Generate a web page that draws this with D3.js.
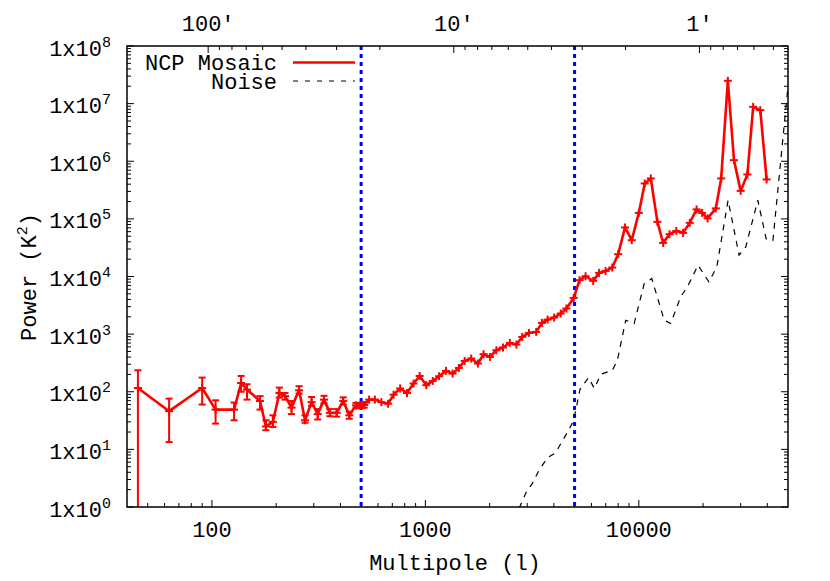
<!DOCTYPE html>
<html><head><meta charset="utf-8">
<script src="https://cdn.jsdelivr.net/npm/d3@7"></script>
<style>body{margin:0;background:#fff}svg{display:block}text{font-family:"Liberation Mono","DejaVu Sans Mono",monospace;fill:#000}</style>
</head><body>
<svg id="c" width="830" height="581"></svg>
<script>
// NCP Mosaic power spectrum
const ells = [45,63,90,104,127,137,146,168,179,193,207,220,236,256,273,293,313,335,357,384,412,440,473,494,517,
  545,580,622,669,710,762,820,880,940,1010,1083,1160,1248,1341,1436,1528,1640,1763,1874,2007,2151,2310,2487,2670,2844,
  3056,3306,3515,3737,4012,4307,4579,4955,5278,5630,6112,6515,6986,7510,8003,8619,9270,10000,10660,11380,
  12220,13000,13930,14990,16120,17330,18650,19800,21000,22950,24320,26130,27920,30000,32270,34340,37080,39700];
const power = [116,46,116,49,49,142,109,69,25,30,95,84,53,106,32,66,41,73,43,43,69,39,58,58,59,
  73,73,66,62,89,114,95,139,188,130,154,186,230,207,259,343,377,309,448,402,525,585,703,660,894,
  1050,1092,1565,1790,1940,2280,2780,4250,8630,10100,8400,11550,12500,14300,24400,71000,42700,127000,412000,503000,
  88700,38300,54200,61900,57200,85300,146000,127000,102000,152000,503000,2.49e7,1.045e6,306000,590000,8.8e6,7.7e6,483000];
// error bars (first points)
const errLo = [0.1,13.4,60,28,32,100,73,49,21.5,24.5,79,73,41,93,29,57,33,63,37.6,37,60,34,52,52,53];
const errHi = [236,76,176,71,65,188,135,84,32,39,118,95,69,125,39,81,50,85,50,50,80,45,64,64,66];
// Noise
const noiseEll = [2750,2968,3177,3402,3737,4070,4479,4870,5050,5300,5814,6190,6640,7520,7936,8680,9510,10600,11500,
  13150,14100,15700,16880,18940,21300,23200,26200,29500,31700,36100,39500,42500,50000];
const noisePower = [0.95,1.8,2.6,4.3,7.2,8.7,16,28,45,110,176,114,201,236,352,1743,1527,7550,9220,
  1743,1527,4420,6590,15700,8050,14700,211000,23400,32600,211000,45000,42000,2e7];
// axes
const xDomain = [40, 50000];
const yDomain = [1, 1e8];
const thetaDomain = [214, 0.436];
const xMajor = [100, 1000, 10000];
const xMinor = [50,60,70,80,90,200,300,400,500,600,700,800,900,2000,3000,4000,5000,6000,7000,8000,9000,20000,30000,40000];
const yMajorExp = [0,1,2,3,4,5,6,7,8];
const thetaMajor = [100, 10, 1];
const thetaLabels = ["100\u2032", "10\u2032", "1\u2032"];
const thetaMinor = [90,80,70,60,50,40,30,20,9,8,7,6,5,4,3,2,0.9,0.8,0.7,0.6,0.5];
const markerLines = [500, 5000];

const X0 = 127, X1 = 788, Y0 = 46, Y1 = 507;
const svg = d3.select("#c");
svg.append("rect").attr("width",830).attr("height",581).attr("fill","#fff");
const x = d3.scaleLog().domain(xDomain).range([X0, X1]);
const y = d3.scaleLog().domain(yDomain).range([Y1, Y0]);
const xt = d3.scaleLog().domain(thetaDomain).range([X0, X1]);

svg.append("clipPath").attr("id","clip").append("rect").attr("x",X0).attr("y",Y0).attr("width",X1-X0).attr("height",Y1-Y0);

const tickG = svg.append("g").attr("stroke","#000").attr("stroke-width",1);
const MAJ = 7, MIN = 4;
// bottom
xMajor.forEach(v=>tickG.append("line").attr("x1",x(v)).attr("x2",x(v)).attr("y1",Y1).attr("y2",Y1-MAJ));
xMinor.forEach(v=>tickG.append("line").attr("x1",x(v)).attr("x2",x(v)).attr("y1",Y1).attr("y2",Y1-MIN));
// top
thetaMajor.forEach(v=>tickG.append("line").attr("x1",xt(v)).attr("x2",xt(v)).attr("y1",Y0).attr("y2",Y0+MAJ));
thetaMinor.forEach(v=>tickG.append("line").attr("x1",xt(v)).attr("x2",xt(v)).attr("y1",Y0).attr("y2",Y0+MIN));
// y left/right
yMajorExp.forEach(e=>{
  const v = Math.pow(10,e);
  [[X0,1],[X1,-1]].forEach(([bx,s])=>{
    tickG.append("line").attr("x1",bx).attr("x2",bx+s*MAJ).attr("y1",y(v)).attr("y2",y(v));
    if (e<8) for (let k=2;k<=9;k++){
      const w = k*v;
      tickG.append("line").attr("x1",bx).attr("x2",bx+s*MIN).attr("y1",y(w)).attr("y2",y(w));
    }
  });
});

// labels
const FS = 22;
xMajor.forEach(v=>svg.append("text").attr("x",x(v)).attr("y",537).attr("text-anchor","middle").attr("font-size",FS).text(v));
thetaMajor.forEach((v,i)=>svg.append("text").attr("x",xt(v)).attr("y",31).attr("text-anchor","middle").attr("font-size",FS).text(thetaLabels[i]));
yMajorExp.forEach(e=>{
  const t = svg.append("text").attr("x",111).attr("y",y(Math.pow(10,e))+9.5).attr("text-anchor","end").attr("font-size",FS);
  t.append("tspan").text("1x10");
  t.append("tspan").attr("dy",-9).attr("font-size",15).text(e);
});
svg.append("text").attr("x",455).attr("y",570).attr("text-anchor","middle").attr("font-size",FS).text("Multipole (l)");
const yt = svg.append("text").attr("transform","translate(36,277) rotate(-90)").attr("text-anchor","middle").attr("font-size",FS);
yt.append("tspan").text("Power (K");
yt.append("tspan").attr("dy",-9).attr("font-size",15).text("2");
yt.append("tspan").attr("dy",9).text(")");

const plot = svg.append("g").attr("clip-path","url(#clip)");
// blue dashed vertical lines
markerLines.forEach(v=>plot.append("line").attr("x1",x(v)).attr("x2",x(v)).attr("y1",Y0).attr("y2",Y1)
  .attr("stroke","#0000ff").attr("stroke-width",3).attr("stroke-dasharray","4,4"));
// noise
const noiseData = noiseEll.map((l,i)=>[l,noisePower[i]]);
plot.append("path").datum(noiseData).attr("fill","none").attr("stroke","#000").attr("stroke-width",1.2)
  .attr("stroke-dasharray","6,6").attr("d",d3.line().x(d=>x(d[0])).y(d=>y(d[1])));
// mosaic
const data = ells.map((l,i)=>({l, p:power[i], lo:errLo[i], hi:errHi[i]}));
plot.append("path").datum(data).attr("fill","none").attr("stroke","#ff0000").attr("stroke-width",2.6)
  .attr("stroke-linejoin","round").attr("d",d3.line().x(d=>x(d.l)).y(d=>y(d.p)));
const eb = plot.append("g").attr("stroke","#ff0000").attr("stroke-width",2);
data.filter(d=>d.lo!==undefined).forEach(d=>{
  const cx = x(d.l), yl = Math.min(y(d.lo), Y1+5), yh = y(d.hi);
  eb.append("line").attr("x1",cx).attr("x2",cx).attr("y1",yl).attr("y2",yh);
  eb.append("line").attr("x1",cx-3.5).attr("x2",cx+3.5).attr("y1",yl).attr("y2",yl);
  eb.append("line").attr("x1",cx-3.5).attr("x2",cx+3.5).attr("y1",yh).attr("y2",yh);
});
const mk = plot.append("g").attr("stroke","#ff0000").attr("stroke-width",2);
data.forEach(d=>{
  const cx = x(d.l), cy = y(d.p);
  mk.append("line").attr("x1",cx-4).attr("x2",cx+4).attr("y1",cy).attr("y2",cy);
  mk.append("line").attr("x1",cx).attr("x2",cx).attr("y1",cy-4).attr("y2",cy+4);
});

// legend
svg.append("text").attr("x",277).attr("y",70).attr("text-anchor","end").attr("font-size",FS).text("NCP Mosaic");
svg.append("line").attr("x1",293).attr("x2",355).attr("y1",62.5).attr("y2",62.5).attr("stroke","#ff0000").attr("stroke-width",2.6);
svg.append("text").attr("x",277).attr("y",88.5).attr("text-anchor","end").attr("font-size",FS).text("Noise");
svg.append("line").attr("x1",293).attr("x2",355).attr("y1",81).attr("y2",81).attr("stroke","#000").attr("stroke-width",1.2).attr("stroke-dasharray","5,7");

// frame
svg.append("rect").attr("x",X0).attr("y",Y0).attr("width",X1-X0).attr("height",Y1-Y0)
  .attr("fill","none").attr("stroke","#000").attr("stroke-width",1.5);
</script>
</body></html>
